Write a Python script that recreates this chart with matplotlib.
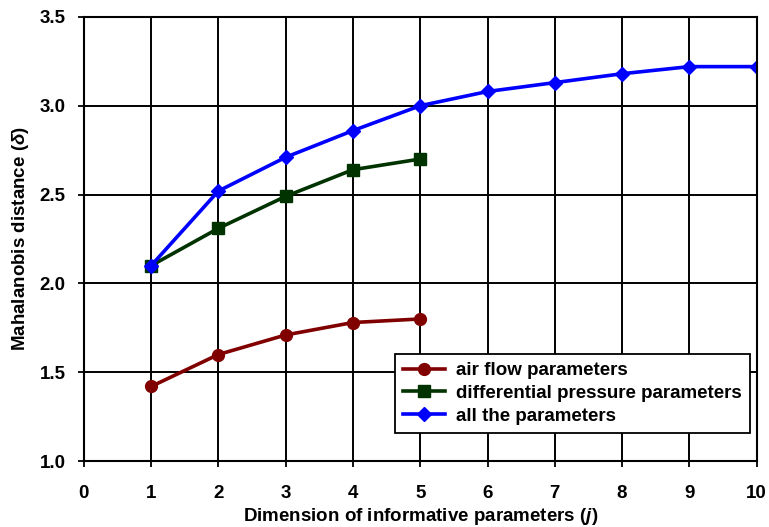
import matplotlib
matplotlib.use("Agg")
import matplotlib.pyplot as plt

plt.rcParams['font.family'] = ['Liberation Sans', 'DejaVu Sans']
plt.rcParams['font.weight'] = 'bold'
plt.rcParams['mathtext.fontset'] = 'custom'
plt.rcParams['mathtext.it'] = 'Liberation Sans:italic:bold'
plt.rcParams['mathtext.rm'] = 'Liberation Sans:bold'
plt.rcParams['mathtext.bf'] = 'Liberation Sans:bold'

x_air = [1, 2, 3, 4, 5]
y_air = [1.42, 1.60, 1.71, 1.78, 1.80]
x_dp = [1, 2, 3, 4, 5]
y_dp = [2.10, 2.31, 2.49, 2.64, 2.70]
x_all = [1, 2, 3, 4, 5, 6, 7, 8, 9, 10]
y_all = [2.10, 2.52, 2.71, 2.86, 3.00, 3.08, 3.13, 3.18, 3.22, 3.22]
labels = ["air flow parameters", "differential pressure parameters", "all the parameters"]

FS = 13.5
fig = plt.figure(figsize=(7.69, 5.27), dpi=100)
ax = fig.add_axes([0.109, 0.125, 0.875, 0.843])

ax.plot(x_air, y_air, color='#800000', marker='o', markersize=8.5, lw=2.6, label=labels[0])
ax.plot(x_dp, y_dp, color='#003300', marker='s', markersize=8.5, lw=2.6, label=labels[1])
ax.plot(x_all, y_all, color='#0000FF', marker='D', markersize=7.5, lw=2.6, label=labels[2])

ax.set_xlim(0, 10)
ax.set_ylim(1.0, 3.5)
ax.set_xticks(range(0, 11))
ax.set_yticks([1.0, 1.5, 2.0, 2.5, 3.0, 3.5])
ax.set_yticklabels(['1.0', '1.5', '2.0', '2.5', '3.0', '3.5'])
ax.grid(True, color='black', lw=1.4)
ax.set_axisbelow(True)
for s in ax.spines.values():
    s.set_linewidth(1.5)
ax.tick_params(direction='out', length=4, width=1.3, labelsize=FS)
ax.tick_params(axis='x', pad=13)
ax.tick_params(axis='y', pad=9)
for t in ax.get_xticklabels() + ax.get_yticklabels():
    t.set_fontweight('bold')

ax.set_xlabel("Dimension of informative parameters ($j$)", fontsize=FS, fontweight='bold', labelpad=3)
ax.set_ylabel("Mahalanobis distance ($δ$)", fontsize=FS, fontweight='bold', labelpad=6)

leg = ax.legend(loc='lower right', bbox_to_anchor=(0.99, 0.063), fontsize=FS, frameon=True,
                fancybox=False, edgecolor='black', framealpha=1, handlelength=2.2,
                borderpad=0.45, labelspacing=0.3, handletextpad=0.6, borderaxespad=0)
leg.get_frame().set_linewidth(1.3)
for t in leg.get_texts():
    t.set_fontweight('bold')

fig.savefig("out.png", dpi=100)
